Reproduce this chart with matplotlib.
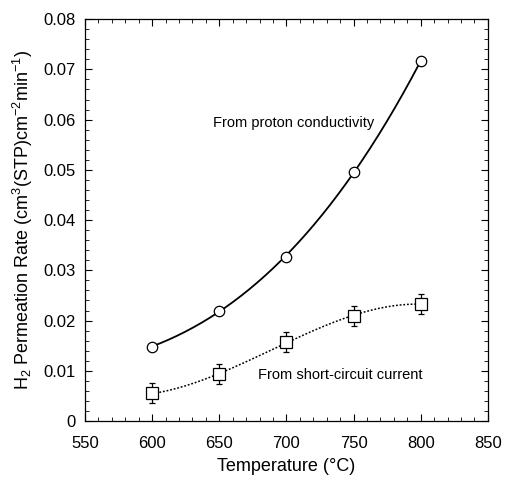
import numpy as np
import matplotlib
matplotlib.use("Agg")
import matplotlib.pyplot as plt
from matplotlib.ticker import MultipleLocator

plt.rcParams['font.family'] = ['Liberation Sans', 'DejaVu Sans']
plt.rcParams['mathtext.default'] = 'regular'

temps = [600, 650, 700, 750, 800]
proton = [0.0148, 0.0220, 0.0327, 0.0496, 0.0716]
short = [0.0055, 0.0093, 0.0158, 0.0209, 0.0233]
short_err = [0.002, 0.002, 0.002, 0.002, 0.002]

fig = plt.figure(figsize=(5.06, 4.79), dpi=100)
ax = fig.add_axes([0.168, 0.121, 0.796, 0.839])

xs = np.linspace(600, 800, 200)
p1 = np.polyfit(temps, proton, 3)
p2 = np.polyfit(temps, short, 3)
ax.plot(xs, np.polyval(p1, xs), color='black', lw=1.3, zorder=2)
ax.plot(xs, np.polyval(p2, xs), color='black', lw=1.1, ls=(0, (1.2, 1.2)), zorder=2)
ax.plot(temps, proton, 'o', ms=7.5, mfc='white', mec='black', mew=0.9, zorder=3)
ax.errorbar(temps, short, yerr=short_err, fmt='s', ms=8, mfc='white', mec='black',
            mew=0.9, ecolor='black', elinewidth=0.9, capsize=2.5, capthick=0.9, zorder=3)

ax.text(645, 0.0593, 'From proton conductivity', fontsize=10.5, va='center', ha='left')
ax.text(679, 0.0092, 'From short-circuit current', fontsize=10.5, va='center', ha='left')

ax.set_xlim(550, 850)
ax.set_ylim(0, 0.08)
ax.xaxis.set_major_locator(MultipleLocator(50))
ax.xaxis.set_minor_locator(MultipleLocator(10))
ax.yaxis.set_minor_locator(MultipleLocator(0.002))
ax.set_yticks([0, 0.01, 0.02, 0.03, 0.04, 0.05, 0.06, 0.07, 0.08])
ax.set_yticklabels(['0', '0.01', '0.02', '0.03', '0.04', '0.05', '0.06', '0.07', '0.08'])
ax.tick_params(which='both', direction='in', top=True, right=True, labelsize=12)
ax.tick_params(axis='x', which='major', pad=11)
ax.tick_params(axis='y', which='major', pad=7)
ax.tick_params(which='major', length=5, width=0.8)
ax.tick_params(which='minor', length=3, width=0.6)
for s in ax.spines.values():
    s.set_linewidth(0.9)

ax.set_xlabel('Temperature (°C)', fontsize=13, labelpad=5)
ax.set_ylabel('H$_2$ Permeation Rate (cm$^3$(STP)cm$^{-2}$min$^{-1}$)', fontsize=13, labelpad=6)

fig.savefig('out.png', dpi=100)
